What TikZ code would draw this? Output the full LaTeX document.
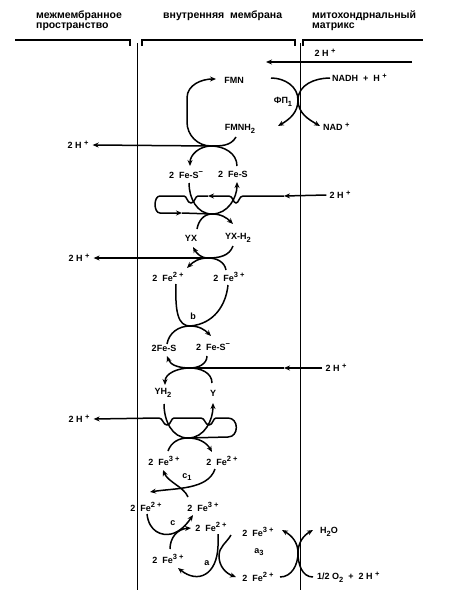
\documentclass[tikz,border=0pt]{standalone}
\usepackage{fontspec}
\setmainfont{Liberation Sans}
\usetikzlibrary{arrows.meta}
\newcommand{\sps}[1]{\raisebox{0.38em}{\fontsize{7.5}{7.5}\selectfont #1}}
\newcommand{\sbs}[1]{\raisebox{-0.28em}{\fontsize{7.5}{7.5}\selectfont #1}}
\begin{document}
\begin{tikzpicture}[x=1pt,y=1pt,
  lbl/.style={font=\fontsize{9}{10}\selectfont\bfseries, inner sep=0pt},
  hdr/.style={font=\fontsize{10.5}{11}\selectfont\bfseries, inner sep=0pt, anchor=base west},
  ln/.style={line width=1.5pt},
  arr/.style={ln,-{Stealth[length=6pt,width=5pt]}},
  mem/.style={line width=0.9pt},
  hl/.style={line width=1.4pt},
]
\useasboundingbox (0,0) rectangle (457,-597);

% header
\node[hdr] (h1a) at (36,-19) {межмембранное};
\node[hdr] (h1b) at (36,-28) {пространство};
\node[hdr] (h2a) at (163,-18.5) {внутренняя \ мембрана};
\node[hdr] (h3a) at (312,-19) {митохондрнальный};
\node[hdr] (h3b) at (312,-28) {матрикс};

\draw[hl] (15,-40) -- (130,-40) -- (130,-46);
\draw[hl] (142,-46) -- (142,-40) -- (295,-40) -- (295,-46);
\draw[hl] (303,-46) -- (303,-40) -- (423,-40);
\draw[mem] (137,-43) -- (137,-590);
\draw[mem] (300,-43) -- (300,-590);

% top: 2H+ and FP1
\node[lbl] (hA) at (325,-53) {2 H \sps{+}};
\coordinate (hAe) at (412,-62); \coordinate (hAt) at (266,-62);
\draw[arr] (hAe) -- (hAt);

\node[lbl] (fmn) at (234,-80) {FMN};
\node[lbl] (fmnh) at (240,-129) {FMNH\sbs{2}};
\node[lbl] (fp) at (283,-102) {ФП\sbs{1}};
\node[lbl, anchor=west] (nadh) at (332,-78) {NADH \ + \ H \sps{+}};
\node[lbl, anchor=west] (nad) at (323,-127) {NAD \sps{+}};

\coordinate (J0) at (298,-100);
\coordinate (j0a) at (271,-78); \coordinate (j0b) at (278,-126);
\coordinate (j0c) at (330,-78); \coordinate (j0d) at (320,-126);
\draw[arr] (j0a) to[out=0,in=90] (J0) to[out=-90,in=30] (j0b);
\draw[arr] (j0c) to[out=180,in=90] (J0) to[out=-90,in=150] (j0d);

% J1
\coordinate (J1) at (211,-146);
\coordinate (fmnin) at (216,-79);
\draw[arr] (J1) to[out=180,in=-90] (187,-122) -- (187,-98) to[out=90,in=180] (fmnin);
\coordinate (j1b) at (236,-137); \draw[ln] (j1b) to[out=-120,in=0] (J1);
\coordinate (j1c) at (190,-166); \draw[arr] (J1) to[out=180,in=90] (j1c);
\coordinate (j1d) at (237,-166); \draw[ln] (J1) to[out=0,in=90] (j1d);
\node[lbl] (hB) at (78,-145) {2 H \sps{+}};
\draw[arr] (J1) -- ([xshift=4pt]hB.east);

\node[lbl] (fes1) at (186,-175) {2 \ Fe-S\sps{−}};
\node[lbl] (fes2) at (233,-174) {2 \ Fe-S};

% J2
\coordinate (J2) at (212,-214);
\coordinate (j2a) at (189,-183); \draw[ln] (j2a) to[out=-90,in=180] (J2);
\coordinate (j2b) at (237,-182); \draw[arr] (J2) to[out=0,in=-90] (j2b);
\coordinate (j2c) at (197,-229); \draw[ln] (j2c) to[out=80,in=180] (J2);
\coordinate (j2d) at (233,-224); \draw[arr] (J2) to[out=0,in=135] (j2d);

\node[lbl] (hC) at (340,-195) {2 H \sps{+}};
\coordinate (m2) at (284,-196);
\coordinate (m2b) at (208,-196);
\coordinate (m2c) at (182,-213);
\draw[arr] ([xshift=-3pt]hC.west) -- (m2);
\draw[arr] (m2) -- (243,-196) .. controls (239,-196) and (239,-203) .. (236,-203) .. controls (233,-203) and (233,-196) .. (229,-196) -- (m2b);
\draw[arr] (m2b) -- (198,-196) .. controls (195,-196) and (195,-203) .. (191,-203) .. controls (187,-203) and (187,-196) .. (184,-196) -- (160,-196) to[out=180,in=180] (160,-213) -- (m2c);
\draw[ln] (m2c) -- (J2);

\node[lbl] (yx) at (191,-238) {YX};
\node[lbl] (yxh) at (238,-238) {YX-H\sbs{2}};

% J3
\coordinate (J3) at (208,-258);
\coordinate (j3a) at (193,-247); \draw[arr] (J3) to[out=180,in=-60] (j3a);
\coordinate (j3b) at (233,-246); \draw[ln] (j3b) to[out=-110,in=0] (J3);
\coordinate (j3c) at (187,-268); \draw[arr] (J3) to[out=180,in=45] (j3c);
\coordinate (j3d) at (226,-270); \draw[ln] (J3) to[out=0,in=100] (j3d);
\node[lbl] (hD) at (79,-258) {2 H \sps{+}};
\draw[arr] (J3) -- ([xshift=4pt]hD.east);

\node[lbl] (fe2b) at (168,-277) {2 \ Fe\sps{2 +}};
\node[lbl] (fe3b) at (229,-277) {2 \ Fe\sps{3 +}};

% J4 (b)
\coordinate (J4) at (190,-326);
\coordinate (j4a) at (176,-284); \draw[ln] (j4a) .. controls (175,-312) and (178,-326) .. (J4);
\coordinate (j4b) at (228,-285); \draw[ln] (j4b) .. controls (226,-305) and (214,-324) .. (J4);
\coordinate (j4c) at (167,-344); \draw[ln] (J4) to[out=180,in=80] (j4c);
\coordinate (j4d) at (211,-336); \draw[arr] (J4) to[out=0,in=135] (j4d);
\node[lbl] (b) at (193,-316) {b};

\node[lbl] (fes3) at (164,-348) {2Fe-S};
\node[lbl] (fes4) at (213,-347) {2 \ Fe-S\sps{−}};

% J5
\coordinate (J5) at (190,-368);
\coordinate (j5a) at (167,-356); \draw[arr] (J5) to[out=180,in=-70] (j5a);
\coordinate (j5b) at (207,-356); \draw[ln] (j5b) to[out=-90,in=0] (J5);
\coordinate (j5c) at (165,-385); \draw[arr] (J5) to[out=180,in=90] (j5c);
\coordinate (j5d) at (212,-383); \draw[ln] (J5) to[out=0,in=90] (j5d);
\node[lbl] (hE) at (336,-368) {2 H \sps{+}};
\coordinate (m5) at (284,-368);
\draw[arr] ([xshift=-3pt]hE.west) -- (m5);
\draw[ln] (m5) -- (J5);

\node[lbl] (yh) at (163,-393) {YH\sbs{2}};
\node[lbl] (y) at (213,-393) {Y};

% J6
\coordinate (J6) at (188,-438);
\coordinate (j6a) at (164,-404); \draw[ln] (j6a) to[out=-90,in=180] (J6);
\coordinate (j6b) at (213,-403); \draw[arr] (J6) to[out=0,in=-90] (j6b);
\coordinate (j6c) at (168,-451); \draw[ln] (J6) to[out=180,in=70] (j6c);
\coordinate (j6d) at (212,-452); \draw[arr] (J6) to[out=0,in=120] (j6d);
\node[lbl] (hF) at (79,-419) {2 H \sps{+}};
\draw[arr] (J6) -- (228,-437) to[out=0,in=0,looseness=1.5] (228,-418) -- (216,-418)
  .. controls (213,-418) and (213,-425) .. (209,-425) .. controls (205,-425) and (205,-418) .. (201,-418)
  -- (174,-418) .. controls (171,-418) and (171,-425) .. (167,-425) .. controls (163,-425) and (163,-418) .. (159,-418)
  -- ([xshift=4pt]hF.east);

\node[lbl] (fe3c1) at (164,-461) {2 \ Fe\sps{3 +}};
\node[lbl] (fe2c1) at (222,-461) {2 \ Fe\sps{2 +}};

% J7 (c1)
\coordinate (j7a) at (215,-469); \coordinate (j7b) at (150,-492);
\draw[arr] (j7a) .. controls (208,-490) and (175,-488) .. (j7b);
\coordinate (j7c) at (188,-497); \coordinate (j7d) at (163,-470);
\draw[arr] (j7c) .. controls (184,-487) and (168,-482) .. (j7d);
\node[lbl] (c1) at (187,-477) {c\sbs{1}};

\node[lbl] (fe2c) at (146,-507) {2 \ Fe\sps{2 +}};
\node[lbl] (fe3c) at (203,-507) {2 \ Fe\sps{3 +}};

% J8 (c)
\coordinate (j8a) at (147,-514); \coordinate (j8b) at (193,-515);
\draw[arr] (j8a) .. controls (149,-532) and (162,-536) .. (171,-534) .. controls (180,-532) and (187,-524) .. (j8b);
\coordinate (j8c) at (170,-549); \coordinate (j8d) at (191,-528);
\draw[arr] (j8c) .. controls (170,-538) and (177,-529) .. (j8d);
\node[lbl] (c) at (173,-523) {c};

\node[lbl] (fe2a) at (211,-527) {2 \ Fe\sps{2 +}};
\node[lbl] (fe3l) at (168,-559) {2 \ Fe\sps{3 +}};

% J9 (a)
\coordinate (J9) at (219,-556);
\coordinate (j9a) at (218,-534); \coordinate (j9b) at (178,-568);
\draw[arr] (j9a) -- (218,-546) .. controls (217,-575) and (198,-584) .. (j9b);
\coordinate (j9c) at (231,-535); \coordinate (j9d) at (236,-577);
\draw[arr] (j9c) to[out=-120,in=90] (J9) to[out=-90,in=160] (j9d);
\node[lbl] (a) at (207,-563) {a};

\node[lbl] (fe3a3) at (258,-532) {2 \ Fe\sps{3 +}};
\node[lbl] (a3) at (259,-552) {a\sbs{3}};
\node[lbl] (fe2a3) at (258,-577) {2 \ Fe\sps{2 +}};
\node[lbl] (h2o) at (329,-532) {H\sbs{2}O};
\node[lbl,anchor=west] (o2) at (317,-577) {1/2 O\sbs{2} \ + \ 2 H \sps{+}};

% J10 (a3)
\coordinate (J10) at (298,-553);
\coordinate (j10a) at (280,-577); \coordinate (j10b) at (282,-530);
\draw[arr] (j10a) to[out=0,in=-90] (J10) to[out=90,in=-30] (j10b);
\coordinate (j10c) at (313,-577); \coordinate (j10d) at (313,-530);
\draw[arr] (j10c) to[out=180,in=-90] (J10) to[out=90,in=-150] (j10d);
\end{tikzpicture}
\end{document}
